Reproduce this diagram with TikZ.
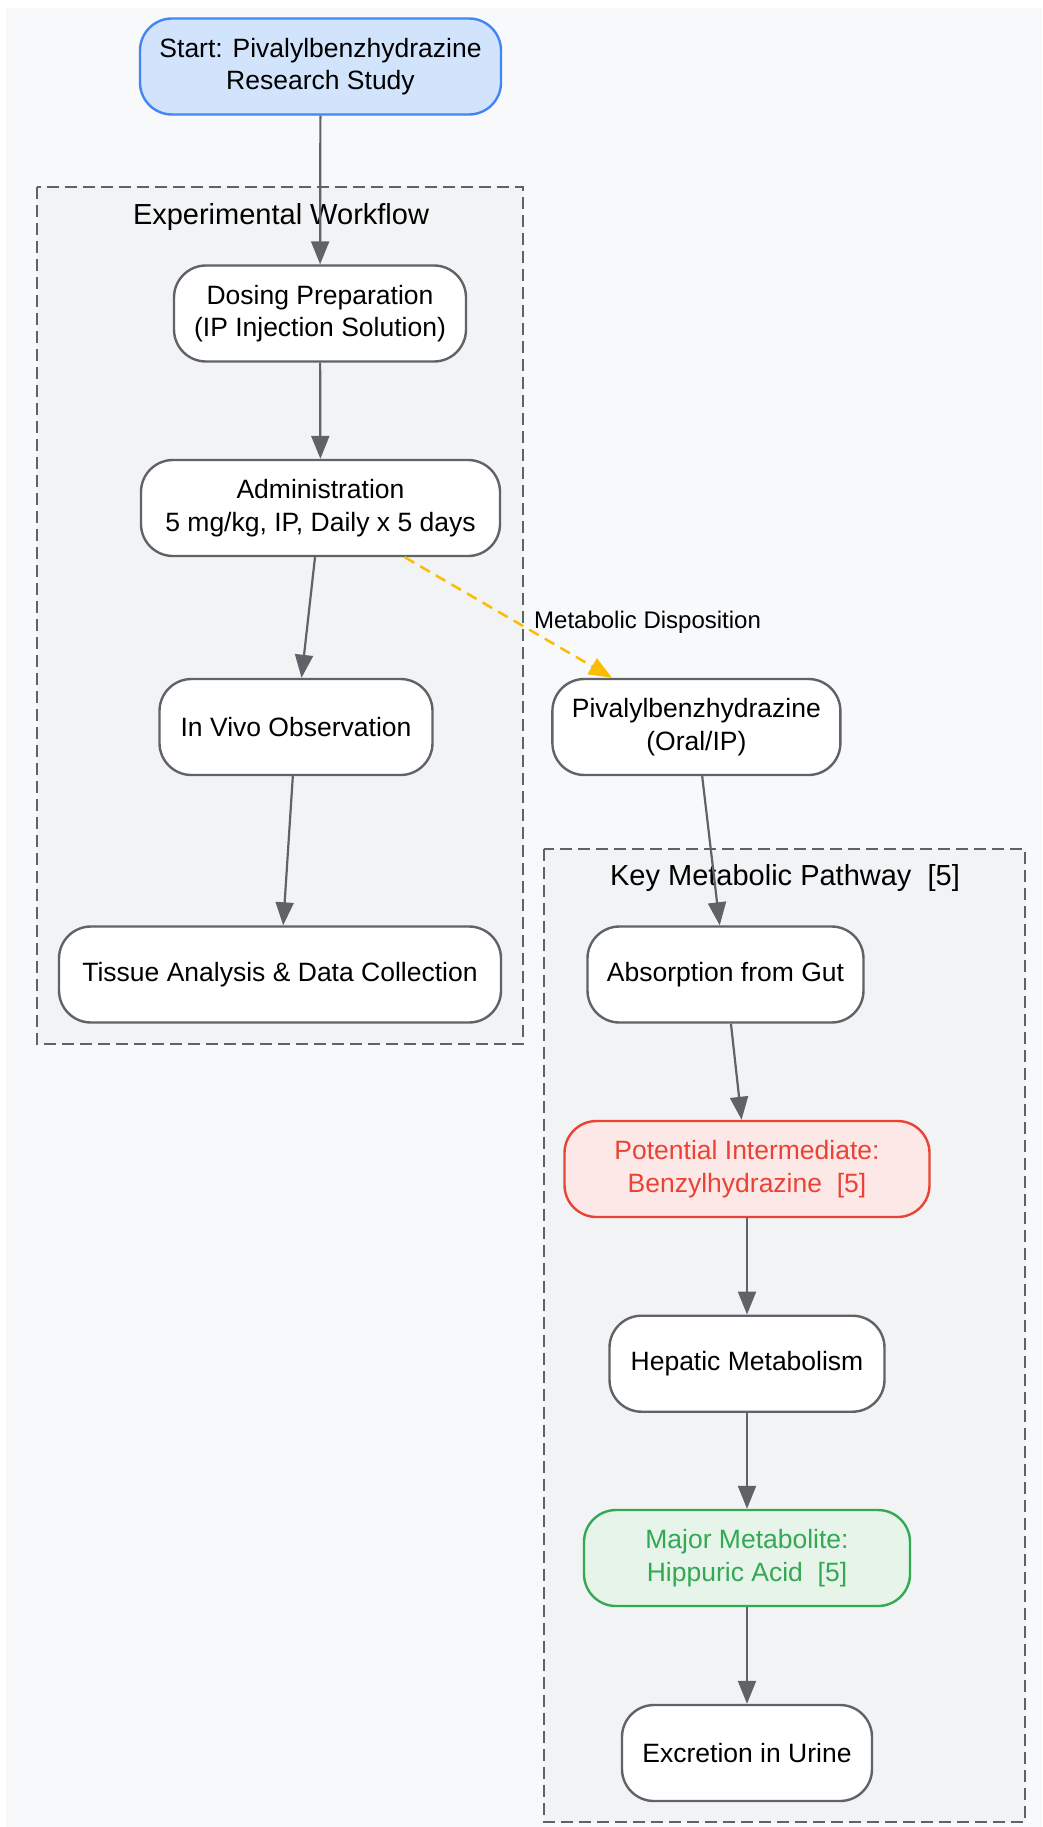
\documentclass[tikz,border=0pt]{standalone}
\usepackage{fontspec}
\setmainfont{Liberation Sans}
\usetikzlibrary{arrows.meta}
\definecolor{bgc}{HTML}{F8F9FA}
\definecolor{clc}{HTML}{F1F3F4}
\definecolor{gr}{HTML}{5F6368}
\definecolor{bl}{HTML}{4285F4}
\definecolor{blf}{HTML}{D2E3FC}
\definecolor{rd}{HTML}{EA4335}
\definecolor{rdf}{HTML}{FCE8E6}
\definecolor{gn}{HTML}{34A853}
\definecolor{gnf}{HTML}{E6F4EA}
\definecolor{yl}{HTML}{FBBC04}
\tikzset{
  box/.style={draw=gr, fill=white, line width=2.4pt, rounded corners=32pt,
    minimum height=96pt, inner sep=0pt, align=center,
    font=\fontsize{26.5}{32.6}\selectfont},
  cluster/.style={draw=gr, fill=clc, line width=2.4pt, dash pattern=on 12pt off 6pt},
  ctitle/.style={font=\fontsize{29}{34}\selectfont},
  conn/.style={draw=gr, line width=2.2pt, -{Triangle[length=23pt,width=18pt]}},
  dconn/.style={draw=yl, line width=2.5pt, dash pattern=on 11pt off 7pt, -{Triangle[length=23pt,width=18pt]}},
  elabel/.style={font=\fontsize{24}{28}\selectfont, anchor=west, inner sep=0pt}
}
\begin{document}
\begin{tikzpicture}[x=1pt,y=-1pt]
\useasboundingbox (0,0) rectangle (1042,1827);
\fill[white] (0,0) rectangle (1042,1827);
\fill[bgc] (6,8) rectangle (1042,1827);
% clusters
\draw[cluster] (37,187) rectangle (523,1044);
\node[ctitle] (t1) at (281,217) {Experimental Workflow};
\draw[cluster] (544,849) rectangle (1025,1822);
\node[ctitle] (t2) at (785,878) {Key Metabolic Pathway\ \ [5]};
% nodes
\node[box, draw=bl, fill=blf, minimum width=361pt] (start) at (320.5,66.5) {Start: Pivalylbenzhydrazine\\Research Study};
\node[box, minimum width=292pt] (dose) at (320,313.5) {Dosing Preparation\\(IP Injection Solution)};
\node[box, minimum width=359pt] (admin) at (320.5,508) {Administration\\5 mg/kg, IP, Daily x 5 days};
\node[box, minimum width=273pt] (vivo) at (296,727) {In Vivo Observation};
\node[box, minimum width=442pt] (tissue) at (280,974.5) {Tissue Analysis \& Data Collection};
\node[box, minimum width=288pt] (piv) at (696.4,727) {Pivalylbenzhydrazine\\(Oral/IP)};
\node[box, minimum width=276pt] (abs) at (725.5,974.5) {Absorption from Gut};
\node[box, draw=rd, fill=rdf, text=rd, minimum width=365pt] (pot) at (747,1169) {Potential Intermediate:\\Benzylhydrazine\ \ [5]};
\node[box, minimum width=275pt] (hep) at (747,1363.7) {Hepatic Metabolism};
\node[box, draw=gn, fill=gnf, text=gn, minimum width=326pt] (maj) at (747,1558) {Major Metabolite:\\Hippuric Acid\ \ [5]};
\node[box, minimum width=250pt] (exc) at (747,1753) {Excretion in Urine};
% edges
\draw[conn] (start) -- (dose);
\draw[conn] (dose) -- (admin);
\draw[conn] (admin) -- (vivo);
\draw[conn] (vivo) -- (tissue);
\draw[dconn] (admin) -- (piv);
\node[elabel] (lab) at (534,622) {Metabolic Disposition};
\draw[conn] (piv) -- (abs);
\draw[conn] (abs) -- (pot);
\draw[conn] (pot) -- (hep);
\draw[conn] (hep) -- (maj);
\draw[conn] (maj) -- (exc);
\end{tikzpicture}
\end{document}
